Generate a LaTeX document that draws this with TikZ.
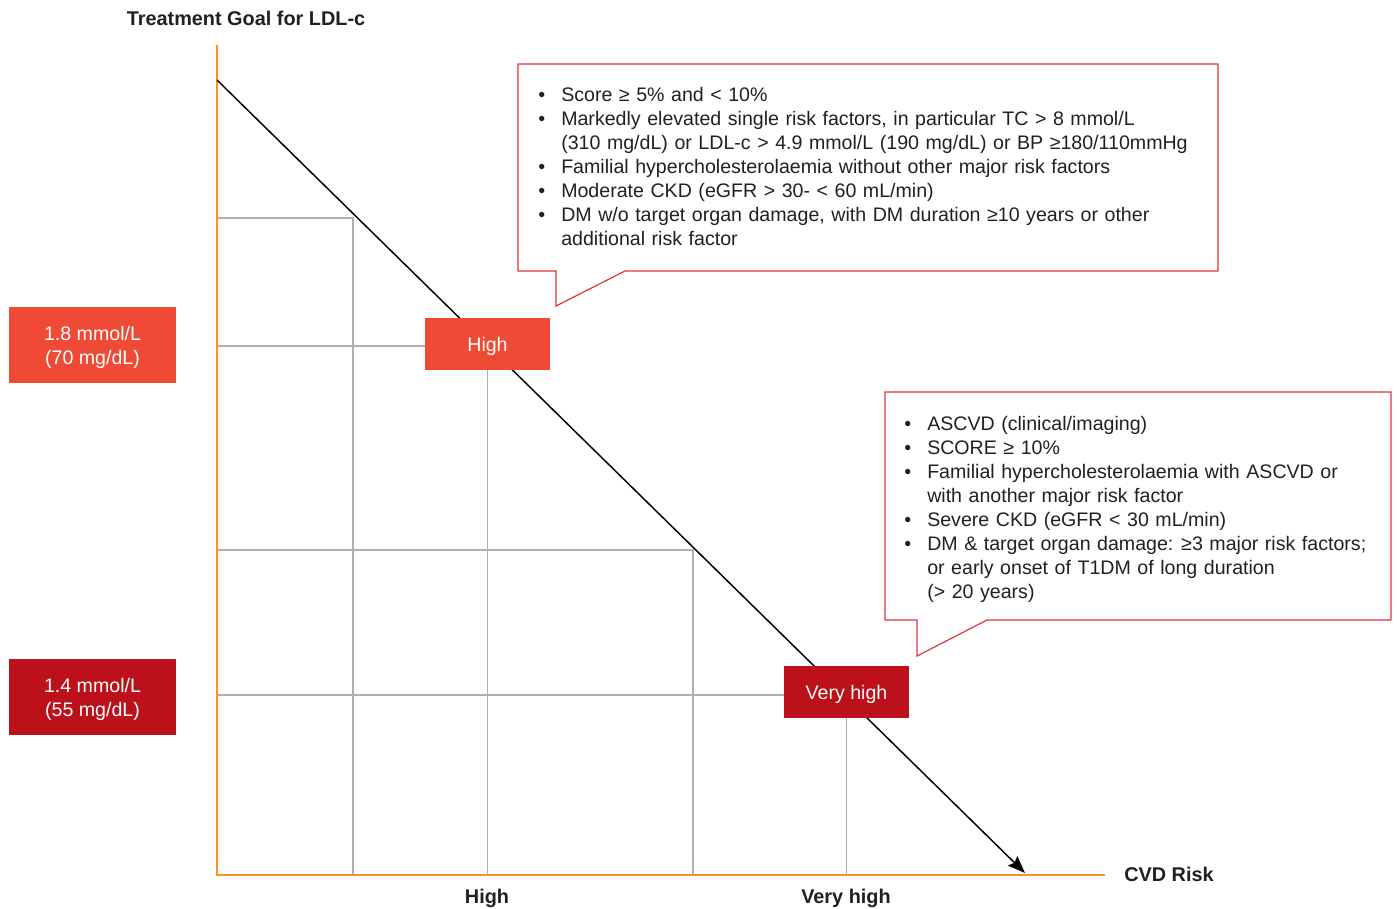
\documentclass[tikz,border=0pt]{standalone}
\usepackage{fontspec}
\setmainfont{Liberation Sans}
\usetikzlibrary{arrows.meta}
\definecolor{hired}{RGB}{239,74,53}
\definecolor{vhred}{RGB}{188,17,26}
\definecolor{calred}{RGB}{226,50,60}
\definecolor{axorange}{RGB}{247,144,47}
\definecolor{gridgray}{RGB}{176,176,176}
\definecolor{txt}{RGB}{35,31,32}
\newcommand{\bul}{\makebox[17.25pt][l]{•}}
\newcommand{\ind}{\hspace*{17.25pt}}
\pgfdeclarelayer{background}
\pgfsetlayers{background,main}
\begin{document}
\begin{tikzpicture}[x=0.75pt,y=-0.75pt,
  every node/.style={font=\fontsize{14.7}{18}\selectfont, text=txt},
  riskbox/.style={fill=#1, inner sep=0},
  boxtext/.style={text=white, align=center, yshift=-1.5pt},
  axis/.style={draw=axorange, line width=1.5pt},
  gridline/.style={draw=gridgray, line width=1pt},
  callout/.style={draw=calred, line width=0.9pt, line join=miter},
  axlabel/.style={font=\bfseries\fontsize{14.9}{18}\selectfont},
  bullets/.style={text width=#1, align=left, inner sep=0, anchor=base west},
]
\useasboundingbox (0,0) rectangle (1397,909);

% coordinates
\coordinate (O) at (217,875);
\coordinate (ytop) at (217,45);
\coordinate (xend) at (1105,875);
\coordinate (dstart) at (217,80);
\coordinate (dtip) at (1025,873);
\coordinate (g1) at (217,218);
\coordinate (g2) at (217,346);
\coordinate (g3) at (217,550);
\coordinate (g4) at (217,695);
\coordinate (v1) at (353,875);
\coordinate (v3) at (693,875);

% risk boxes
\node[riskbox=hired, minimum width=93.75pt, minimum height=39pt,
  label={[boxtext]center:High}] (high) at (487.5,344) {};
\node[riskbox=vhred, minimum width=93.75pt, minimum height=39pt,
  label={[boxtext]center:Very high}] (vhigh) at (846.5,692) {};
\node[riskbox=hired, minimum width=125.25pt, minimum height=57pt,
  label={[boxtext]center:1.8 mmol/L\\(70 mg/dL)}] (g18) at (92.5,345) {};
\node[riskbox=vhred, minimum width=125.25pt, minimum height=57pt,
  label={[boxtext]center:1.4 mmol/L\\(55 mg/dL)}] (g14) at (92.5,697) {};

\begin{pgfonlayer}{background}
% grid
\draw[gridline] (g1) -| (v1);
\draw[gridline] (g3) -| (v3);
\draw[gridline] (g2) -- (g2 -| high.west);
\draw[gridline] (high.south) -- (high.south |- O);
\draw[gridline] (g4) -- (g4 -| vhigh.west);
\draw[gridline] (vhigh.south) -- (vhigh.south |- O);
% axes
\draw[axis] (ytop) -- (O) -- (xend);
% diagonal
\draw[line width=1.1pt, black, -{Stealth[length=13pt,width=10pt,inset=2pt]}] (dstart) -- (dtip);
\end{pgfonlayer}

% labels
\node[axlabel] (title) at (246,18) {Treatment Goal for LDL-c};
\node[axlabel] (cvd) at (1169,874) {CVD Risk};
\node[axlabel] (xhigh) at (487,898.5) {High};
\node[axlabel] (xvhigh) at (846,898.5) {Very high};

% callout 1
\draw[callout] (518,64) -- (1218,64) -- (1218,271) -- (625,271) -- (556,306) -- (556,271) -- (518,271) -- cycle;
\node[bullets=510pt] (c1) at (538,102) {%
\bul Score ≥ 5\% and < 10\%\\
\bul Markedly elevated single risk factors, in particular TC > 8 mmol/L\\
\ind (310 mg/dL) or LDL-c > 4.9 mmol/L (190 mg/dL) or BP ≥180/110mmHg\\
\bul Familial hypercholesterolaemia without other major risk factors\\
\bul Moderate CKD (eGFR > 30- < 60 mL/min)\\
\bul DM w/o target organ damage, with DM duration ≥10 years or other\\
\ind additional risk factor};

% callout 2
\draw[callout] (885,392) -- (1391,392) -- (1391,620) -- (987,620) -- (917,656) -- (917,620) -- (885,620) -- cycle;
\node[bullets=370pt] (c2) at (904,431) {%
\bul ASCVD (clinical/imaging)\\
\bul SCORE ≥ 10\%\\
\bul Familial hypercholesterolaemia with ASCVD or\\
\ind with another major risk factor\\
\bul Severe CKD (eGFR < 30 mL/min)\\
\bul DM \& target organ damage:\hspace{-1.5pt} ≥3 major risk factors;\\
\ind or early onset of T1DM of long duration\\
\ind (> 20 years)};
\end{tikzpicture}
\end{document}
